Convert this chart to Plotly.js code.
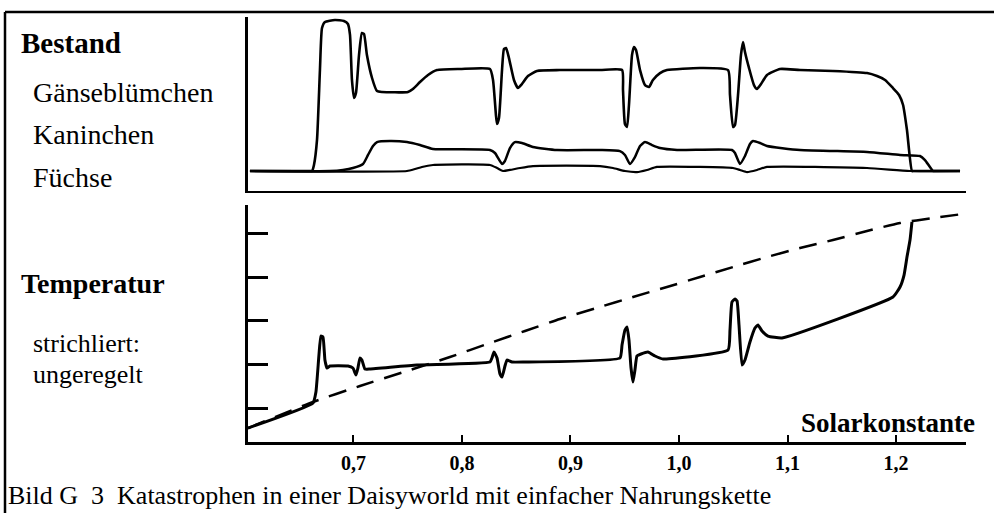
<!DOCTYPE html>
<html>
<head>
<meta charset="utf-8">
<script src="https://cdn.plot.ly/plotly-3.0.1.min.js"></script>
<style>html,body{margin:0;padding:0;background:#fff;}#chart{width:994px;height:513px;}</style>
</head>
<body>
<div id="chart"></div>
<script>
// Bestand (population), top panel
const daisyS = [0.6046,0.6600,0.6618,0.6636,0.6664,0.6691,0.6710,0.6737,0.6829,0.6912,0.6949,0.6968,0.6986,0.7005,0.7023,0.7051,0.7078,0.7097,0.7124,0.7171,0.7217,0.7263,0.7502,0.7548,0.7613,0.7687,0.7770,0.7982,0.8258,0.8286,0.8313,0.8323,0.8341,0.8369,0.8387,0.8406,0.8433,0.8479,0.8516,0.8553,0.8608,0.8691,0.8903,0.9272,0.9475,0.9484,0.9502,0.9521,0.9539,0.9567,0.9585,0.9604,0.9641,0.9687,0.9724,0.9760,0.9825,0.9889,1.0194,1.0452,1.0470,1.0498,1.0516,1.0544,1.0571,1.0590,1.0608,1.0645,1.0691,1.0719,1.0756,1.0811,1.0931,1.1115,1.1419,1.1733,1.1825,1.1899,1.1972,1.2028,1.2065,1.2101,1.2147,1.2165,1.2590];
const daisyP = [0,0,0,4,20.7,67.3,95.3,99.3,100.7,100,98,90.7,60.7,48.7,52,77.3,92,91.3,77.3,62,53.3,52.7,52.7,54.7,59.3,64,67.3,68,68,60.7,37.3,31.3,35.3,67.3,81.3,82,75.3,60.7,55.3,58,63.3,66.7,67.3,67.3,67.3,54,31.3,29.3,44,77.3,82.7,80.7,67.3,57.3,56,60.7,65.3,67.3,68.7,67.3,50.7,29.3,30.7,50.7,77.3,86,79.3,68.7,57.3,54.7,58,64,68,67.3,66.7,65.3,63.3,60.7,55.3,50.7,44,27.3,0,0,0];

const rabbitS = [0.6046,0.6783,0.6903,0.6995,0.7088,0.7134,0.7180,0.7217,0.7336,0.7493,0.7613,0.7733,0.8258,0.8304,0.8369,0.8396,0.8442,0.8488,0.8553,0.8654,0.8876,0.9272,0.9456,0.9502,0.9548,0.9594,0.9641,0.9687,0.9751,0.9825,0.9982,1.0488,1.0516,1.0562,1.0608,1.0654,1.0682,1.0747,1.0811,1.1115,1.1733,1.2037,1.2221,1.2267,1.2341,1.2362,1.2590];
const rabbitP = [0,0,0.7,2,4.7,10.7,16.7,19.3,20,19.3,17.3,14.7,14,12,4.7,6.7,15.3,19.3,18.7,16,14,14,13.3,10.7,4.7,9.3,16.7,19.3,17.3,15.3,14,14,12,4.7,10,18,20,18.7,16.7,14,12.7,10.7,10,7.3,0,0,0];

const foxS = [0.6046,0.7493,0.7567,0.7631,0.7733,0.8258,0.8323,0.8378,0.8442,0.8535,0.8654,0.9272,0.9392,0.9502,0.9613,0.9705,0.9797,1.0194,1.0498,1.0562,1.0627,1.0719,1.0811,1.1733,1.2129,1.2590];
const foxP = [0,0,1.3,2.7,4,4,2,0,0.7,2,3.3,3.3,2,0,-0.7,0.7,2.7,2.7,2,0.7,-0.7,0.7,2.7,2,0,0];

// Temperatur (geregelt), bottom panel
const tempS = [0.6028,0.6627,0.6654,0.6682,0.6700,0.6719,0.6737,0.6756,0.6783,0.6949,0.6995,0.7023,0.7041,0.7060,0.7078,0.7106,0.7152,0.7585,0.8258,0.8276,0.8295,0.8323,0.8350,0.8369,0.8396,0.8415,0.8461,0.8562,0.9456,0.9475,0.9502,0.9521,0.9539,0.9558,0.9576,0.9594,0.9613,0.9650,0.9714,0.9779,0.9853,1.0452,1.0470,1.0488,1.0516,1.0535,1.0553,1.0581,1.0608,1.0654,1.0700,1.0728,1.0765,1.0820,1.0949,1.1972,1.2037,1.2074,1.2101,1.2129,1.2147];
const tempT = [0.541,1.115,1.367,2.216,2.651,2.628,2.101,1.917,1.963,1.963,1.917,1.757,1.917,2.147,2.101,1.894,1.894,1.986,2.055,2.147,2.284,2.147,1.780,1.711,1.963,2.101,2.055,2.055,2.147,2.445,2.789,2.858,2.560,1.917,1.596,1.872,2.193,2.239,2.284,2.193,2.124,2.330,2.789,3.431,3.500,3.454,2.904,1.986,2.101,2.514,2.835,2.904,2.766,2.651,2.606,3.546,3.775,4.050,4.463,4.853,5.27];

// ungeregelt (dashed), bottom panel
const unregS = [0.6028,0.6627,0.7060,0.7493,0.7889,0.8258,0.8581,0.8903,0.9272,0.9576,0.9889,1.0194,1.0498,1.0811,1.1115,1.1419,1.1733,1.2037,1.2341,1.2617];
const unregT = [0.541,1.138,1.505,1.849,2.170,2.491,2.766,3.041,3.317,3.546,3.775,4.005,4.234,4.463,4.670,4.853,5.060,5.243,5.358,5.450];

// tick labels
const xTickVals = [0.7, 0.8, 0.9, 1.0, 1.1, 1.2];
const xTickText = ["0,7", "0,8", "0,9", "1,0", "1,1", "1,2"];
const yTickVals = [1, 2, 3, 4, 5];

const SERIF = "Liberation Serif, Times New Roman, serif";

const traces = [
  {x: daisyS, y: daisyP, xaxis: "x", yaxis: "y", mode: "lines", line: {color: "#000", width: 2.6, shape: "spline", smoothing: 0.5}, name: "Gänseblümchen"},
  {x: rabbitS, y: rabbitP, xaxis: "x", yaxis: "y", mode: "lines", line: {color: "#000", width: 2.5, shape: "spline", smoothing: 0.5}, name: "Kaninchen"},
  {x: foxS, y: foxP, xaxis: "x", yaxis: "y", mode: "lines", line: {color: "#000", width: 2.2, shape: "spline", smoothing: 0.5}, name: "Füchse"},
  {x: unregS, y: unregT, xaxis: "x2", yaxis: "y2", mode: "lines", line: {color: "#000", width: 2.5, dash: "18px,11px", shape: "spline", smoothing: 0.6}, name: "ungeregelt"},
  {x: tempS, y: tempT, xaxis: "x2", yaxis: "y2", mode: "lines", line: {color: "#000", width: 3, shape: "spline", smoothing: 0.4}, name: "Temperatur"}
];

// pixel helpers for paper coordinates (plot area 248..966 x, 17..442 y)
const PX = p => (p - 248) / 718;
const PY = p => (442 - p) / 425;

const ann = (text, px, py, size, bold, anchor) => ({
  text: text, xref: "paper", yref: "paper", x: PX(px), y: PY(py),
  xanchor: anchor || "left", yanchor: "middle", showarrow: false, borderpad: 0,
  font: {family: SERIF, size: size, color: "#000", weight: bold ? "bold" : "normal"}
});

const xr = [0.6028, 1.2645];

const layout = {
  width: 994, height: 513,
  margin: {l: 248, r: 28, t: 17, b: 71, pad: 0},
  paper_bgcolor: "#fff", plot_bgcolor: "#fff",
  showlegend: false,
  font: {family: SERIF, color: "#000"},
  xaxis: {domain: [0, 1], anchor: "y", range: xr, showline: true, linewidth: 2, linecolor: "#000",
          showgrid: false, zeroline: false, ticks: "", showticklabels: false, fixedrange: true},
  yaxis: {domain: [0.5906, 1], anchor: "x", range: [-13.33, 102.67], showline: true, linewidth: 3, linecolor: "#000",
          showgrid: false, zeroline: false, ticks: "", showticklabels: false, fixedrange: true},
  xaxis2: {domain: [0, 1], anchor: "y2", range: xr, showline: true, linewidth: 3, linecolor: "#000",
           showgrid: false, zeroline: false, ticks: "inside", ticklen: 7, tickwidth: 2, tickcolor: "#000",
           tickvals: xTickVals, ticktext: xTickText, ticklabelstandoff: 1,
           tickfont: {family: SERIF, size: 20, color: "#000", weight: "bold"}, fixedrange: true},
  yaxis2: {domain: [0, 0.5576], anchor: "x2", range: [0.2202, 5.656], showline: true, linewidth: 3, linecolor: "#000",
           showgrid: false, zeroline: false, ticks: "inside", ticklen: 20, tickwidth: 3, tickcolor: "#000",
           tickvals: yTickVals, showticklabels: false, fixedrange: true},
  annotations: [
    ann("Bestand", 20, 43, 29, true),
    ann("Gänseblümchen", 32, 92, 28, false),
    ann("Kaninchen", 32, 134, 28, false),
    ann("Füchse", 32, 177, 28, false),
    ann("Temperatur", 20, 283, 28, true),
    ann("strichliert:", 32, 343, 26, false),
    ann("ungeregelt", 32, 374, 26, false),
    ann("Solarkonstante", 976, 423, 27, true, "right"),
    ann("Bild G&nbsp;&nbsp;3&nbsp;&nbsp;Katastrophen in einer Daisyworld mit einfacher Nahrungskette", 7, 496, 26, false)
  ],
  shapes: [
    {type: "line", xref: "paper", yref: "paper", x0: PX(5), x1: PX(996), y0: PY(12), y1: PY(12), line: {color: "#000", width: 2.5}},
    {type: "line", xref: "paper", yref: "paper", x0: PX(5), x1: PX(5), y0: PY(12), y1: PY(520), line: {color: "#000", width: 2.5}}
  ]
};

Plotly.newPlot("chart", traces, layout, {staticPlot: true, displayModeBar: false});
</script>
</body>
</html>
